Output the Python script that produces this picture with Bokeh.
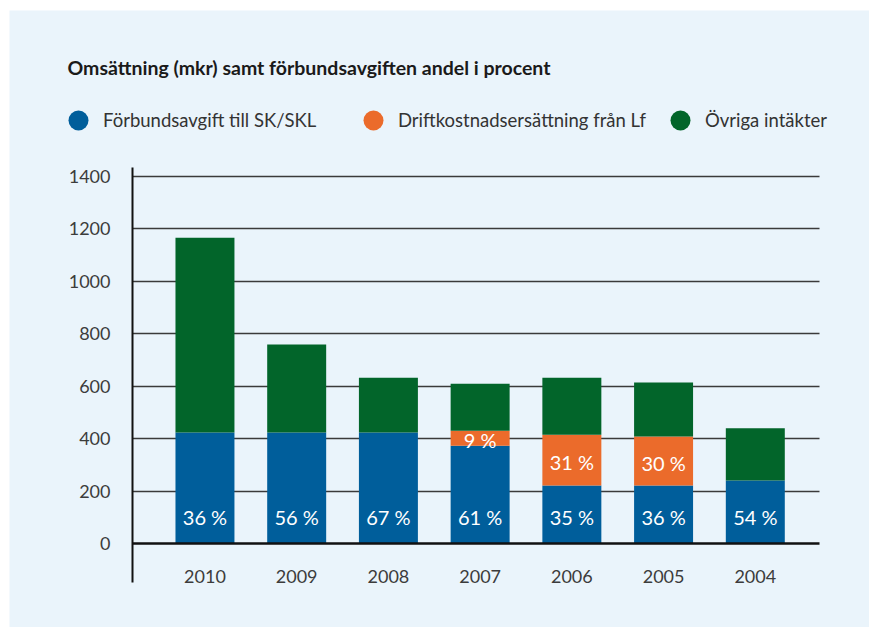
from bokeh.plotting import figure
from bokeh.models import Range1d, FixedTicker, Label, Legend, LegendItem
from bokeh.core.properties import value
from bokeh.embed import file_html
from bokeh.resources import INLINE

# ---- data ----
years = ["2010", "2009", "2008", "2007", "2006", "2005", "2004"]
forbundsavgift = [424, 424, 424, 374, 222, 222, 241]
driftkostnad = [0, 0, 0, 57, 194, 187, 0]
ovriga = [742, 335, 209, 179, 217, 205, 199]
pct_blue = ["36 %", "56 %", "67 %", "61 %", "35 %", "36 %", "54 %"]
pct_orange = ["", "", "", "9 %", "31 %", "30 %", ""]
y_ticks = [0, 200, 400, 600, 800, 1000, 1200, 1400]

series_names = ["Förbundsavgift till SK/SKL", "Driftkostnadsersättning från Lf", "Övriga intäkter"]
title_text = "Omsättning (mkr) samt förbundsavgiften andel i procent"

BLUE = "#005E9B"
ORANGE = "#EB6B2B"
GREEN = "#02652A"
BG = "#EAF4FB"
FONT = "Lato"

x = list(range(len(years)))
b0 = [0] * len(years)
b1 = [a for a in forbundsavgift]
b2 = [a + d for a, d in zip(forbundsavgift, driftkostnad)]
b3 = [a + d + o for a, d, o in zip(forbundsavgift, driftkostnad, ovriga)]

# chart area (data units) and the full panel extents around it
X_LO, X_HI = -0.79, 6.70
Y_LO, Y_HI = -147, 1433

p = figure(width=860, height=617, x_range=Range1d(-2.131, 7.245), y_range=Range1d(-318.3, 2030.7),
           output_backend="svg", toolbar_location=None, min_border=0)
p.margin = (10, 0, 0, 9)
p.background_fill_color = BG
p.border_fill_color = BG
p.outline_line_color = None

W = 0.643
colors = [BLUE, ORANGE, GREEN]
p.vbar(x=x, bottom=b0, top=b1, width=W, color=BLUE, line_color=None)
p.vbar(x=x, bottom=b1, top=b2, width=W, color=ORANGE, line_color=None)
p.vbar(x=x, bottom=b2, top=b3, width=W, color=GREEN, line_color=None)

p.xgrid.visible = False
p.ygrid.ticker = FixedTicker(ticks=y_ticks[1:])
p.ygrid.grid_line_color = "#3a3a3a"
p.ygrid.grid_line_width = 1.5
p.ygrid.level = "underlay"
p.ygrid.cross_bounds = (X_LO, X_HI)

# y axis
ay = p.yaxis[0]
ay.fixed_location = X_LO
ay.bounds = (Y_LO, Y_HI)
ay.ticker = FixedTicker(ticks=y_ticks)
ay.major_tick_line_color = None
ay.minor_tick_line_color = None
ay.axis_line_color = "#111111"
ay.axis_line_width = 2
ay.major_label_standoff = 16
ay.major_label_text_font = FONT
ay.major_label_text_font_size = "18px"
ay.major_label_text_color = "#3c3c3c"

# x axis (zero line) with year labels
axx = p.xaxis[0]
axx.fixed_location = 0
axx.bounds = (X_LO, X_HI)
axx.ticker = FixedTicker(ticks=x)
axx.major_label_overrides = {i: yname for i, yname in zip(x, years)}
axx.major_tick_line_color = None
axx.minor_tick_line_color = None
axx.axis_line_color = "#111111"
axx.axis_line_width = 2.5
axx.major_label_standoff = 20
axx.major_label_text_font = FONT
axx.major_label_text_font_size = "18px"
axx.major_label_text_color = "#3c3c3c"

# percentage labels
p.text(x=x, y=[96] * len(years), text=pct_blue, text_font=value(FONT), text_font_size="20px",
       text_color="white", text_align="center", text_baseline="middle", y_offset=-2)
mid_orange = [(a + b) / 2 for a, b in zip(b1, b2)]
p.text(x=x, y=mid_orange, text=pct_orange, text_font=value(FONT), text_font_size="20px",
       text_color="white", text_align="center", text_baseline="middle", y_offset=2)

# title
p.add_layout(Label(x=58, y=560, x_units="screen", y_units="screen", text=title_text,
                   text_font=FONT, text_font_style="bold", text_font_size="19.5px",
                   text_color="#1a1a1a", text_baseline="middle", text_align="left"))

# legend: one legend per entry, circle markers
legend_x = [44, 339, 646]
for name, col, lx in zip(series_names, colors, legend_x):
    r = p.scatter(x=[float("nan")], y=[float("nan")], size=20, color=col, line_color=None)
    leg = Legend(items=[LegendItem(label=name, renderers=[r])], location=(lx, 482),
                 glyph_width=50, glyph_height=50, label_standoff=-12, padding=0, margin=0,
                 spacing=0, background_fill_alpha=0, border_line_color=None,
                 label_text_font=FONT, label_text_font_size="18.5px", label_text_color="#333333",
                 label_height=20)
    p.add_layout(leg)

open("out.html", "w").write(file_html(p, INLINE))
